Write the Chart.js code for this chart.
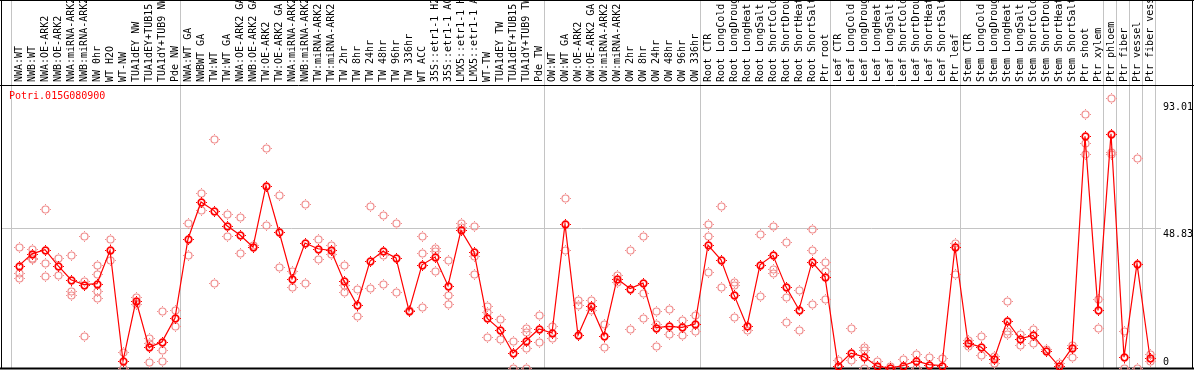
<!DOCTYPE html>
<html>
<head>
<meta charset="utf-8">
<script src="https://cdn.jsdelivr.net/npm/chart.js@4.4.1/dist/chart.umd.min.js"></script>
<style>
  body { margin: 0; background: #fff; }
  canvas { display: block; }
</style>
</head>
<body>
<canvas id="chart" width="1194" height="370"></canvas>
<script>
const geneName = 'Potri.015G080900';

const sampleLabels = [
  'NWA:WT', 'NWB:WT', 'NWA:OE-ARK2', 'NWB:OE-ARK2', 'NWA:miRNA-ARK2', 'NWB:miRNA-ARK2',
  'NW 0hr', 'WT H2O', 'WT-NW', 'TUA1dEY NW', 'TUA1dEY+TUB15 NW', 'TUA1dY+TUB9 NW', 'Pde NW',
  'NWA:WT GA', 'NWBWT GA', 'TW:WT', 'TW:WT GA', 'NWA:OE-ARK2 GA', 'NWB:OE-ARK2 GA',
  'TW:OE-ARK2', 'TW:OE-ARK2 GA', 'NWA:miRNA-ARK2', 'NWB:miRNA-ARK2', 'TW:miRNA-ARK2', 'TW:miRNA-ARK2',
  'TW 2hr', 'TW 8hr', 'TW 24hr', 'TW 48hr', 'TW 96hr', 'TW 336hr', 'WT ACC',
  '35S::etr1-1 H2O', '35S::etr1-1 ACC', 'LMX5::etr1-1 H2O', 'LMX5::etr1-1 ACC',
  'WT-TW', 'TUA1dEY TW', 'TUA1dEY+TUB15 TW', 'TUA1dY+TUB9 TW', 'Pde TW',
  'OW:WT', 'OW:WT GA', 'OW:OE-ARK2', 'OW:OE-ARK2 GA', 'OW:miRNA-ARK2', 'OW:miRNA-ARK2',
  'OW 2hr', 'OW 8hr', 'OW 24hr', 'OW 48hr', 'OW 96hr', 'OW 336hr',
  'Root CTR', 'Root LongCold', 'Root LongDrought', 'Root LongHeat', 'Root LongSalt',
  'Root ShortCold', 'Root ShortDrought', 'Root ShortHeat', 'Root ShortSalt', 'Ptr root',
  'Leaf CTR', 'Leaf LongCold', 'Leaf LongDrought', 'Leaf LongHeat', 'Leaf LongSalt',
  'Leaf ShortCold', 'Leaf ShortDrought', 'Leaf ShortHeat', 'Leaf ShortSalt', 'Ptr leaf',
  'Stem CTR', 'Stem LongCold', 'Stem LongDrought', 'Stem LongHeat', 'Stem LongSalt',
  'Stem ShortCold', 'Stem ShortDrought', 'Stem ShortHeat', 'Stem ShortSalt',
  'Ptr shoot', 'Ptr xylem', 'Ptr phloem', 'Ptr fiber', 'Ptr vessel', 'Ptr fiber vessel'
];

// mean expression per sample
const meanValues = [
  35.7, 39.8, 41.3, 35.7, 30.8, 29.1, 29.4, 41.0, 2.5, 23.5, 7.2, 9.1, 17.4,
  45.0, 57.9, 54.9, 49.6, 46.4, 42.2, 63.6, 47.6, 31.1, 43.6, 41.6, 41.0,
  30.3, 22.0, 37.3, 40.7, 38.4, 20.0, 36.0, 38.7, 28.7, 48.0, 40.5,
  17.4, 13.4, 5.2, 9.5, 13.6,
  12.2, 50.2, 11.4, 21.7, 11.3, 31.1, 27.7, 29.6, 14.1, 14.5, 14.2, 15.3,
  42.9, 37.7, 25.5, 14.6, 36.0, 39.3, 28.3, 20.3, 37.0, 31.8,
  0.8, 5.2, 3.9, 0.6, 0.0, 0.8, 2.5, 1.2, 0.8, 42.2,
  8.7, 7.3, 3.1, 16.3, 10.2, 11.4, 5.8, 0.6, 7.0,
  80.8, 20.1, 81.7, 3.8, 36.4, 3.5
];

// individual replicates per sample
const replicateValues = [
  [42.2, 33.1, 31.4], [41.6, 38.4, 38.1], [55.6, 36.6, 32.2], [38.4, 32.5],
  [39.5, 27.0, 25.6], [46.1, 30.2, 11.2], [35.8, 32.8, 27.0, 24.4], [45.1, 37.8],
  [5.6, 0.0], [24.6, 22.4], [10.5, 8.8, 2.1], [20.0, 6.4, 2.3], [20.3, 14.5],
  [50.6, 39.4], [61.0, 55.2], [79.9, 29.6], [53.8, 45.9], [52.8, 40.1], [43.0],
  [76.7, 50.0], [60.4, 35.1], [33.7, 28.3], [57.2, 29.6], [45.1, 38.0], [42.8, 39.9],
  [35.9, 29.1, 26.4], [27.6, 18.2], [56.5, 27.9], [53.4, 39.5, 29.4], [50.6, 26.4],
  [20.3], [46.1, 40.1, 21.3], [41.9, 40.7, 33.7], [37.5, 25.5, 22.4], [50.6, 49.3],
  [49.4, 38.9, 32.9], [21.7, 19.7, 10.8], [17.1, 10.1], [9.3, 0.0], [14.0, 12.7, 7.0, 0.0],
  [18.6, 8.9],
  [14.5, 10.5], [59.3, 41.0], [23.8, 22.0], [23.6, 20.3], [15.5, 7.2], [32.3, 29.9],
  [41.3, 13.7], [45.9, 26.2, 17.4], [20.0, 15.5, 7.5], [20.7, 12.0], [16.6, 11.4], [18.6, 12.8],
  [50.2, 45.9, 33.5], [56.5, 28.3], [30.0, 29.1, 17.8], [13.4], [46.8, 25.2],
  [49.4, 34.5, 33.1], [43.9, 24.8, 16.0], [27.3, 13.4], [48.5, 41.0, 22.4], [37.0, 33.7, 24.1],
  [2.9], [14.0, 2.7], [7.3, 6.4, 0.0], [2.3], [0.8], [3.1], [5.0, 0.0], [4.0], [3.5],
  [43.6, 32.9],
  [9.9, 7.5], [11.3, 4.6], [4.3, 1.7], [23.5, 12.8, 12.0], [12.0, 8.1], [13.7, 8.7],
  [6.6], [1.7], [8.1, 4.0],
  [88.6, 78.6, 74.6], [24.1, 14.0], [94.2, 75.5, 74.7], [13.0, 0.0], [73.2, 0.0], [5.0, 2.3]
];

const yTickValues = [0, 48.83, 93.01];
// index of the first sample of each group, plus the end
const groupStarts = [0, 13, 41, 53, 63, 73, 84, 85, 86, 87, 88];

const FONT = '10px "DejaVu Sans Mono", "Liberation Mono", monospace';

function makeMarker(color, r, lw) {
  const c = document.createElement('canvas');
  c.width = 13; c.height = 13;
  const g = c.getContext('2d');
  g.strokeStyle = color;
  g.fillStyle = color;
  g.lineWidth = lw;
  g.beginPath();
  g.arc(6.5, 6.5, r, 0, Math.PI * 2);
  g.stroke();
  g.fillRect(6, 1, 1, 1);
  g.fillRect(6, 11, 1, 1);
  g.fillRect(1, 6, 1, 1);
  g.fillRect(11, 6, 1, 1);
  return c;
}

const meanMarker = makeMarker('#ff0000', 3.3, 1.7);
const repMarker = makeMarker('#f08c8c', 3.5, 1.2);

const meanPoints = meanValues.map((v, i) => ({ x: i, y: v }));
const repPoints = [];
replicateValues.forEach((vals, i) => vals.forEach(v => repPoints.push({ x: i, y: v })));

function stampMarkers(chart, dsIndex, img) {
  const ctx = chart.ctx;
  chart.getDatasetMeta(dsIndex).data.forEach(el => {
    ctx.drawImage(img, Math.round(el.x) - 6, Math.round(el.y) - 6);
  });
}

const framePlugin = {
  id: 'frame',
  beforeDatasetsDraw(chart) {
    const { ctx, chartArea, scales } = chart;
    const xs = scales.x, ys = scales.y;
    ctx.save();
    ctx.lineWidth = 1;
    ctx.strokeStyle = '#c4c4c4';
    // group separators
    groupStarts.forEach(idx => {
      const px = Math.round(xs.getPixelForValue(idx - 0.65)) + 0.5;
      ctx.beginPath();
      ctx.moveTo(px, 0);
      ctx.lineTo(px, chartArea.bottom);
      ctx.stroke();
    });
    // middle value line
    const gy = Math.round(ys.getPixelForValue(yTickValues[1])) + 0.5;
    ctx.beginPath();
    ctx.moveTo(chartArea.left, gy);
    ctx.lineTo(chartArea.right, gy);
    ctx.stroke();

    // black frame
    ctx.strokeStyle = '#000';
    ctx.beginPath();
    ctx.moveTo(0, chartArea.top + 0.5);
    ctx.lineTo(chart.width, chartArea.top + 0.5);
    ctx.moveTo(1.5, 0);
    ctx.lineTo(1.5, chartArea.bottom + 1);
    ctx.moveTo(chart.width - 1.5, 0);
    ctx.lineTo(chart.width - 1.5, chartArea.bottom + 1);
    ctx.moveTo(0, 0.5);
    ctx.lineTo(chart.width, 0.5);
    ctx.stroke();
    ctx.lineWidth = 2;
    ctx.beginPath();
    ctx.moveTo(0, chartArea.bottom + 0.5);
    ctx.lineTo(chart.width, chartArea.bottom + 0.5);
    ctx.stroke();

    // sample labels, rotated
    ctx.font = FONT;
    ctx.fillStyle = '#000';
    ctx.textAlign = 'left';
    ctx.textBaseline = 'middle';
    sampleLabels.forEach((lab, i) => {
      const px = xs.getPixelForValue(i);
      ctx.save();
      ctx.translate(Math.round(px) + 0.5, chartArea.top - 3);
      ctx.rotate(-Math.PI / 2);
      ctx.fillText(lab, 0, 0);
      ctx.restore();
    });

    // value labels on the right
    yTickValues.forEach(v => {
      let py = ys.getPixelForValue(v) + 6;
      py = Math.min(py, chartArea.bottom - 6);
      ctx.fillText(String(v), chartArea.right + 2, py);
    });

    // gene name
    ctx.fillStyle = '#ff0000';
    ctx.fillText(geneName, 9, chartArea.top + 11);

    // replicate markers under the mean line
    stampMarkers(chart, 1, repMarker);
    ctx.restore();
  },
  afterDatasetsDraw(chart) {
    stampMarkers(chart, 0, meanMarker);
  }
};

new Chart(document.getElementById('chart'), {
  type: 'scatter',
  data: {
    datasets: [
      {
        label: 'mean',
        data: meanPoints,
        showLine: true,
        borderColor: '#ff0000',
        borderWidth: 1.2,
        pointRadius: 0,
        order: 0
      },
      {
        label: 'replicates',
        data: repPoints,
        showLine: false,
        pointRadius: 0,
        order: 1
      }
    ]
  },
  options: {
    responsive: false,
    animation: false,
    clip: false,
    layout: { padding: { left: 2, right: 33, top: 85, bottom: 2 } },
    scales: {
      x: { type: 'linear', display: false, min: -1.3077, max: 87.846 },
      y: { type: 'linear', display: false, min: 0, max: 98.7 }
    },
    plugins: {
      legend: { display: false },
      tooltip: { enabled: false }
    }
  },
  plugins: [framePlugin]
});
</script>
</body>
</html>
